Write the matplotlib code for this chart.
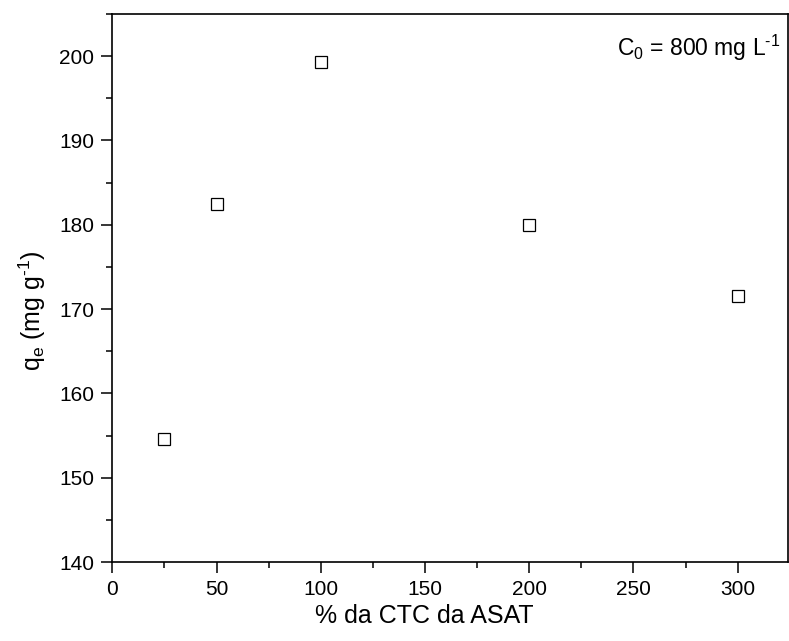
import numpy as np
import matplotlib
matplotlib.use('Agg')
import matplotlib.pyplot as plt
from matplotlib.ticker import MultipleLocator

plt.rcParams['font.family'] = ['Liberation Sans', 'DejaVu Sans']
plt.rcParams['mathtext.fontset'] = 'custom'
plt.rcParams['mathtext.rm'] = 'Liberation Sans'
plt.rcParams['mathtext.it'] = 'Liberation Sans'
plt.rcParams['mathtext.default'] = 'regular'

# dados
ctc_pct = [25, 50, 100, 200, 300]
qe = [154.6, 182.5, 199.3, 180.0, 171.6]

fig = plt.figure(figsize=(7.89, 6.41), dpi=100)
ax = fig.add_axes([0.1423, 0.1232, 0.856, 0.855])

ax.plot(ctc_pct, qe, linestyle='none', marker='s', markersize=8.4,
        markerfacecolor='white', markeredgecolor='black', markeredgewidth=0.9)

ax.set_xlim(0, 324)
ax.set_ylim(140, 205)
ax.xaxis.set_major_locator(MultipleLocator(50))
ax.xaxis.set_minor_locator(MultipleLocator(25))
ax.yaxis.set_major_locator(MultipleLocator(10))
ax.yaxis.set_minor_locator(MultipleLocator(5))

ax.tick_params(which='major', direction='out', length=8, width=1.1, labelsize=15, pad=5)
ax.tick_params(which='minor', direction='out', length=4, width=1.1)
for s in ax.spines.values():
    s.set_linewidth(1.2)

ax.set_xlabel('% da CTC da ASAT', fontsize=18)
ax.xaxis.set_label_coords(0.462, -0.076)
ax.set_ylabel(r'q$_e$ (mg g$^{‐1}$)', fontsize=18)
ax.yaxis.set_label_coords(-0.095, 0.458)

ax.text(0.99, 0.965, r'C$_0$ = 800 mg L$^{‐1}$', transform=ax.transAxes,
        ha='right', va='top', fontsize=16.5)

fig.savefig('out.png', dpi=100)
